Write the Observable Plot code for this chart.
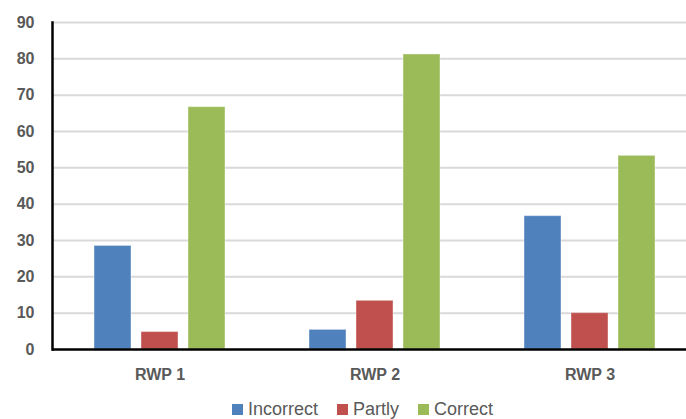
<!DOCTYPE html>
<html>
<head>
<meta charset="utf-8">
<script src="https://cdn.jsdelivr.net/npm/d3@7"></script>
<script src="https://cdn.jsdelivr.net/npm/@observablehq/plot@0.6"></script>
<style>
  html, body { margin: 0; padding: 0; background: #fff; overflow: hidden; width: 686px; height: 419px; }
  #chart svg { display: block; overflow: hidden; }
  .lg-swatches { justify-content: center; font-family: "Liberation Sans", Arial, sans-serif !important; font-size: 18px !important; color: #595959 !important; margin: 0 !important; padding-left: 58px; min-height: 19px !important; height: 19px; line-height: 19px; }
  .lg-swatch { margin-right: 19px !important; }
  .lg-swatch > svg { margin-right: 5px !important; }
</style>
</head>
<body>
<div id="chart"></div>
<script>
const groups = ["RWP 1", "RWP 2", "RWP 3"];
const seriesNames = ["Incorrect", "Partly", "Correct"];
const incorrect = [28.5, 5.4, 36.7];
const partly = [4.8, 13.4, 10.0];
const correct = [66.7, 81.2, 53.3];
const yTicks = [0, 10, 20, 30, 40, 50, 60, 70, 80, 90];
const colors = ["#4F81BD", "#C0504D", "#9BBB59"];

const valuesBySeries = [incorrect, partly, correct];
const data = [];
groups.forEach((g, i) => {
  seriesNames.forEach((s, j) => data.push({group: g, series: s, value: valuesBySeries[j][i]}));
});

const font = "'Liberation Sans', Arial, sans-serif";
const chart = Plot.plot({
  width: 686,
  height: 400,
  marginLeft: 51,
  marginRight: -11,
  marginTop: 22,
  marginBottom: 51,
  style: {fontFamily: font, fontSize: "16px", fontWeight: "bold", color: "#595959", background: "#fff"},
  fx: {domain: groups, label: null, axis: "bottom", padding: 0, tickSize: 0, tickPadding: 19},
  x: {domain: seriesNames, axis: null, paddingInner: 10 / 48, paddingOuter: 0.849},
  y: {domain: [0, 90], ticks: yTicks, tickSize: 0, tickPadding: 18, label: null},
  color: {domain: seriesNames, range: colors},
  marks: [
    Plot.ruleY(yTicks.slice(1), {stroke: "#D9D9D9", strokeWidth: 2}),
    Plot.barY(data, {fx: "group", x: "series", y: "value", fill: "series", stroke: "#ffffff", strokeOpacity: 0.4, strokeWidth: 1}),
    Plot.ruleY([0], {stroke: "#000", strokeWidth: 2.5}),
    Plot.frame({anchor: "left", facetAnchor: "left", stroke: "#000", strokeWidth: 2.5})
  ]
});
document.getElementById("chart").appendChild(chart);

const legend = Plot.legend({
  color: {domain: seriesNames, range: colors},
  legend: "swatches",
  swatchSize: 11,
  className: "lg"
});
document.body.appendChild(legend);
</script>
</body>
</html>
